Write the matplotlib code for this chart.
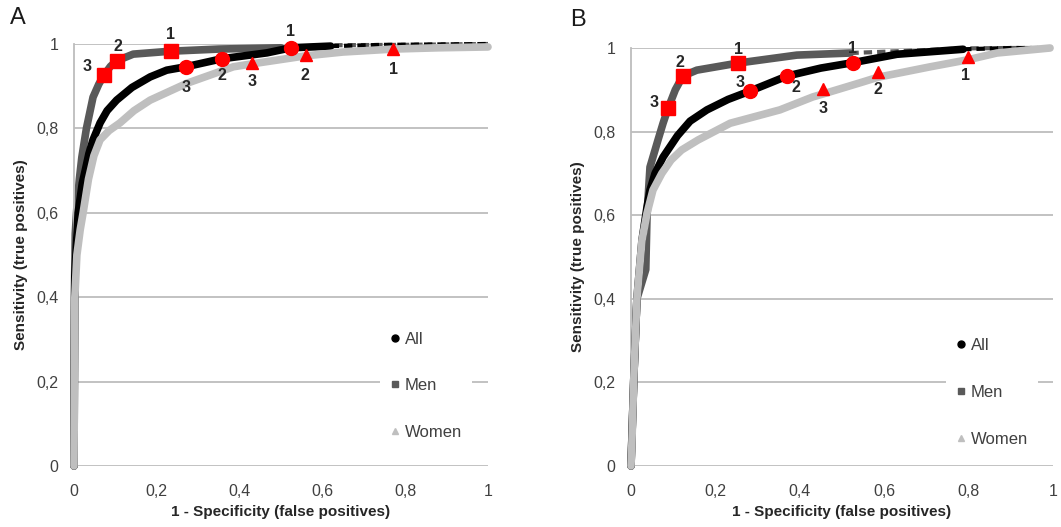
import numpy as np
import matplotlib.pyplot as plt
from matplotlib.lines import Line2D

plt.rcParams['font.family'] = ['Liberation Sans', 'DejaVu Sans']

# ROC curves, panel A
men_a_x = [0, 0.001, 0.003, 0.007, 0.013, 0.019, 0.03, 0.046, 0.06, 0.073, 0.088, 0.103, 0.143, 0.234, 0.35, 0.50, 0.60, 0.80, 1.0]
men_a_y = [0, 0.40, 0.55, 0.614, 0.68, 0.732, 0.80, 0.874, 0.905, 0.927, 0.947, 0.96, 0.976, 0.983, 0.988, 0.991, 0.997, 0.998, 1.0]
all_a_x = [0, 0.002, 0.01, 0.02, 0.027, 0.036, 0.046, 0.063, 0.08, 0.103, 0.14, 0.184, 0.224, 0.27, 0.357, 0.466, 0.524, 0.62, 0.75, 1.0]
all_a_y = [0, 0.45, 0.60, 0.67, 0.70, 0.74, 0.773, 0.813, 0.842, 0.867, 0.897, 0.922, 0.938, 0.946, 0.965, 0.979, 0.991, 0.995, 0.998, 1.0]
women_a_x = [0, 0.002, 0.007, 0.015, 0.022, 0.035, 0.048, 0.063, 0.085, 0.111, 0.145, 0.184, 0.273, 0.385, 0.43, 0.56, 0.65, 0.771, 0.88, 1.0]
women_a_y = [0, 0.40, 0.50, 0.56, 0.60, 0.68, 0.735, 0.773, 0.795, 0.813, 0.842, 0.867, 0.907, 0.946, 0.953, 0.972, 0.981, 0.988, 0.991, 0.993]

# cut-off points (1, 2, 3), panel A
men_pts_a_x = [0.234, 0.103, 0.073]
men_pts_a_y = [0.983, 0.96, 0.927]
all_pts_a_x = [0.524, 0.357, 0.27]
all_pts_a_y = [0.991, 0.965, 0.946]
women_pts_a_x = [0.771, 0.56, 0.43]
women_pts_a_y = [0.988, 0.974, 0.955]

# ROC curves, panel B
men_b_x = [0, 0.007, 0.014, 0.035, 0.038, 0.045, 0.064, 0.076, 0.088, 0.105, 0.123, 0.156, 0.254, 0.393, 0.52, 0.65, 0.787, 0.9, 1.0]
men_b_y = [0, 0.22, 0.40, 0.47, 0.60, 0.715, 0.78, 0.82, 0.856, 0.90, 0.933, 0.947, 0.964, 0.983, 0.988, 0.993, 0.999, 1.0, 1.0]
all_b_x = [0, 0.007, 0.014, 0.026, 0.038, 0.045, 0.057, 0.076, 0.11, 0.14, 0.18, 0.23, 0.282, 0.37, 0.45, 0.526, 0.63, 0.787, 0.9, 1.0]
all_b_y = [0, 0.22, 0.40, 0.54, 0.62, 0.66, 0.70, 0.739, 0.79, 0.825, 0.852, 0.877, 0.897, 0.933, 0.952, 0.965, 0.985, 0.997, 1.0, 1.0]
women_b_x = [0, 0.002, 0.007, 0.014, 0.026, 0.038, 0.052, 0.073, 0.095, 0.12, 0.159, 0.235, 0.353, 0.431, 0.455, 0.55, 0.585, 0.709, 0.799, 0.867, 0.993]
women_b_y = [0, 0.05, 0.22, 0.40, 0.54, 0.605, 0.66, 0.70, 0.732, 0.756, 0.78, 0.82, 0.852, 0.883, 0.89, 0.919, 0.93, 0.955, 0.972, 0.988, 1.0]

# cut-off points (1, 2, 3), panel B
men_pts_b_x = [0.254, 0.123, 0.088]
men_pts_b_y = [0.964, 0.933, 0.856]
all_pts_b_x = [0.526, 0.37, 0.282]
all_pts_b_y = [0.965, 0.933, 0.897]
women_pts_b_x = [0.799, 0.585, 0.455]
women_pts_b_y = [0.978, 0.943, 0.902]

pt_labels = ['1', '2', '3']
ticks = [0, 0.2, 0.4, 0.6, 0.8, 1]
tick_labels = ['0', '0,2', '0,4', '0,6', '0,8', '1']

C_MEN, C_ALL, C_WOMEN = '#595959', '#000000', '#bfbfbf'
TXT = '#404040'


def curve(ax, x, y, color, split, z):
    x = np.array(x)
    y = np.array(y)
    m = x <= split
    ax.plot(x[m], y[m], color=color, lw=5.5, solid_capstyle='round', solid_joinstyle='round',
            zorder=z, clip_on=False)
    k = max(m.sum() - 1, 0)
    ax.plot(x[k:], y[k:], color=color, lw=3, ls=(0, (2, 1.2)), zorder=z, clip_on=False)


def cutoffs(ax, xs, ys, marker, size, offsets):
    ax.plot(xs, ys, ls='none', marker=marker, ms=size, color='#ff0000', mec='#ff0000', zorder=10, clip_on=False)
    for lab, xv, yv, off in zip(pt_labels, xs, ys, offsets):
        ax.annotate(lab, (xv, yv), xytext=off, textcoords='offset points', ha='center', va='center',
                    fontsize=11.5, fontweight='bold', color='#262626', zorder=11)


fig = plt.figure(figsize=(10.61, 5.27), dpi=100)
axA = fig.add_axes([74 / 1061, 61 / 527, 414 / 1061, 422 / 527])
axB = fig.add_axes([631 / 1061, 61 / 527, 422 / 1061, 418 / 527])

for ax in (axA, axB):
    ax.set_xlim(0, 1)
    ax.set_ylim(0, 1)
    ax.set_xticks(ticks)
    ax.set_xticklabels(tick_labels)
    ax.set_yticks(ticks)
    ax.set_yticklabels(tick_labels)
    ax.tick_params(length=0, labelsize=11.5, labelcolor=TXT)
    ax.tick_params(axis='x', pad=13)
    ax.tick_params(axis='y', pad=11)
    ax.grid(axis='y', color='#bdbdbd', lw=1.3, zorder=0)
    ax.set_axisbelow(True)
    for s in ('top', 'right', 'bottom'):
        ax.spines[s].set_visible(False)
    ax.spines['left'].set_color('#bdbdbd')
    ax.spines['left'].set_linewidth(1.3)
    ax.set_xlabel('1 - Specificity (false positives)', fontsize=11, fontweight='bold', color='#262626', labelpad=4)
    ax.set_ylabel('Sensitivity (true positives)', fontsize=11, fontweight='bold', color='#262626', labelpad=6)
    handles = [Line2D([], [], ls='none', marker='o', ms=5, color=C_ALL),
               Line2D([], [], ls='none', marker='s', ms=5, color=C_MEN),
               Line2D([], [], ls='none', marker='^', ms=5, color=C_WOMEN)]
    leg = ax.legend(handles, ['All', 'Men', 'Women'], loc='center',
                    bbox_to_anchor=(0.85, 0.19) if ax is axA else (0.855, 0.176),
                    frameon=True, framealpha=1, facecolor='white', edgecolor='none',
                    fontsize=12, labelspacing=1.9, handlelength=0.6, handletextpad=0.3,
                    borderpad=0.6, labelcolor=TXT)
    leg.set_zorder(5)

# panel A
curve(axA, men_a_x, men_a_y, C_MEN, 0.55, 2)
curve(axA, all_a_x, all_a_y, C_ALL, 0.62, 3)
curve(axA, women_a_x, women_a_y, C_WOMEN, 1.0, 4)
cutoffs(axA, men_pts_a_x, men_pts_a_y, 's', 10, [(0, 12), (1, 10), (-12, 6)])
cutoffs(axA, all_pts_a_x, all_pts_a_y, 'o', 10, [(0, 12), (0, -12), (0, -15)])
cutoffs(axA, women_pts_a_x, women_pts_a_y, '^', 9, [(0, -15), (-1, -15), (0, -13)])

# panel B
curve(axB, men_b_x, men_b_y, C_MEN, 0.52, 2)
curve(axB, all_b_x, all_b_y, C_ALL, 0.787, 3)
curve(axB, women_b_x, women_b_y, C_WOMEN, 1.0, 4)
cutoffs(axB, men_pts_b_x, men_pts_b_y, 's', 10, [(0, 10), (-2, 10), (-10, 4)])
cutoffs(axB, all_pts_b_x, all_pts_b_y, 'o', 10, [(0, 10), (6, -8), (-7, 6)])
cutoffs(axB, women_pts_b_x, women_pts_b_y, '^', 9, [(-2, -13), (0, -13), (0, -14)])

fig.text(18 / 1061, 1 - 18 / 527, 'A', fontsize=17, ha='center', va='center', color='#1a1a1a')
fig.text(578 / 1061, 1 - 20 / 527, 'B', fontsize=17, ha='center', va='center', color='#1a1a1a')

fig.savefig('out.png', dpi=100)
